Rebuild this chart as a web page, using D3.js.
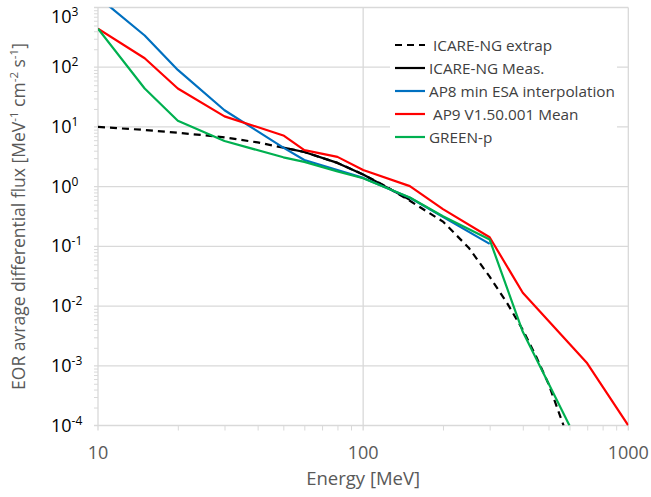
<!DOCTYPE html>
<html>
<head>
<meta charset="utf-8">
<script src="https://cdn.jsdelivr.net/npm/d3@7"></script>
<style>
  body { margin: 0; background: #fff; }
  text { font-family: "Open Sans", "Liberation Sans", sans-serif; }
</style>
</head>
<body>
<svg id="chart"></svg>
<script>
// Energy grids [MeV] and differential flux values per model
var extrapEnergy = [10, 15, 20, 30, 40, 50, 60, 80, 100, 120, 150, 200, 250, 300, 350, 400, 450, 500, 570];
var extrapFlux   = [10, 8.9, 8.0, 6.7, 5.5, 4.5, 3.8, 2.5, 1.6, 1.05, 0.58, 0.26, 0.095, 0.031, 0.011, 0.004, 0.0014, 0.0005, 0.0001];

var measEnergy = [50, 60, 80, 100, 150];
var measFlux   = [4.5, 3.8, 2.5, 1.6, 0.6];

var ap8Energy = [10, 15, 20, 30, 50, 60, 80, 100, 150, 300];
var ap8Flux   = [1500, 340, 90, 19, 4.5, 2.8, 1.9, 1.4, 0.65, 0.11];

var ap9Energy = [10, 15, 20, 30, 50, 60, 80, 100, 150, 200, 300, 400, 700, 1000];
var ap9Flux   = [440, 141, 44, 15, 7.2, 4.1, 3.15, 1.9, 1.02, 0.42, 0.142, 0.0167, 0.0011, 0.0001];

var greenEnergy = [10, 15, 20, 30, 50, 60, 80, 100, 150, 200, 300, 400, 600];
var greenFlux   = [440, 44, 12.7, 5.8, 3.1, 2.6, 1.8, 1.38, 0.66, 0.32, 0.13, 0.0037, 0.0001];

var seriesNames = [" ICARE-NG extrap", "ICARE-NG Meas.", "AP8 min ESA interpolation", " AP9 V1.50.001 Mean", "GREEN-p"];
var xTicks = [10, 100, 1000];
var yExponents = [3, 2, 1, 0, -1, -2, -3, -4];

var width = 651, height = 497;
var margin = { top: 7.5, right: 22.7, bottom: 71.5, left: 98 };

var svg = d3.select("#chart").attr("width", width).attr("height", height);

var x = d3.scaleLog().domain([10, 1000]).range([margin.left, width - margin.right]);
var y = d3.scaleLog().domain([1e-4, 1e3]).range([height - margin.bottom, margin.top]);

var gridColor = "#d9d9d9";

// minor tick values (2..9 in each decade)
function minors(lo, hi) {
    var out = [];
    for (var e = lo; e < hi; e++) {
        for (var m = 2; m <= 9; m++) out.push(m * Math.pow(10, e));
    }
    return out;
}

// Gridlines at decades
svg.append("g").selectAll("line")
    .data(yExponents.map(function (e) { return Math.pow(10, e); }))
    .enter().append("line")
    .attr("x1", x(10) - 4).attr("x2", x(1000))
    .attr("y1", function (d) { return y(d); }).attr("y2", function (d) { return y(d); })
    .attr("stroke", gridColor).attr("stroke-width", 1.3);

svg.append("g").selectAll("line")
    .data(xTicks)
    .enter().append("line")
    .attr("x1", function (d) { return x(d); }).attr("x2", function (d) { return x(d); })
    .attr("y1", y(1e3)).attr("y2", y(1e-4) + 5)
    .attr("stroke", gridColor).attr("stroke-width", 1.3);

// Minor ticks on both axes
var yMinor = d3.axisLeft(y).tickValues(minors(-4, 3)).tickSize(4).tickFormat("");
var gyMinor = svg.append("g").attr("transform", "translate(" + x(10) + ",0)").call(yMinor);
gyMinor.select(".domain").remove();
gyMinor.selectAll("line").attr("stroke", gridColor);

var xMinor = d3.axisBottom(x).tickValues(minors(1, 3)).tickSize(5).tickFormat("");
var gxMinor = svg.append("g").attr("transform", "translate(0," + y(1e-4) + ")").call(xMinor);
gxMinor.select(".domain").remove();
gxMinor.selectAll("line").attr("stroke", gridColor);

// Y tick labels as 10^n (top one is pushed inside the frame)
var yLab = svg.append("g").selectAll("text")
    .data(yExponents)
    .enter().append("text")
    .attr("x", 51)
    .attr("y", function (e) { return Math.max(y(Math.pow(10, e)) + 6, 23); })
    .attr("font-size", 18)
    .attr("fill", "#000")
    .text("10");
yLab.append("tspan").attr("dy", -7).attr("font-size", 12).text(function (e) { return e; });

// X tick labels
svg.append("g").selectAll("text")
    .data(xTicks)
    .enter().append("text")
    .attr("x", function (d) { return x(d); })
    .attr("y", 459)
    .attr("text-anchor", "middle")
    .attr("font-size", 18)
    .attr("fill", "#595959")
    .text(function (d) { return d; });

// Axis titles
svg.append("text")
    .attr("x", x(100)).attr("y", 485)
    .attr("text-anchor", "middle")
    .attr("font-size", 18.5)
    .attr("fill", "#595959")
    .text("Energy [MeV]");

var yTitle = svg.append("text")
    .attr("transform", "translate(25," + ((y(1e3) + y(1e-4)) / 2) + ") rotate(-90)")
    .attr("text-anchor", "middle")
    .attr("font-size", 17.5)
    .attr("fill", "#595959");
[["EOR avrage differential flux [MeV", false], ["-1", true], [" cm", false], ["-2", true],
 [" s", false], ["-1", true], ["]", false]].forEach(function (p, i) {
    var ts = yTitle.append("tspan").text(p[0]);
    if (p[1]) ts.attr("font-size", 11.5).attr("dy", -7);
    else ts.attr("dy", i > 0 ? 7 : 0);
});

// Curves
svg.append("clipPath").attr("id", "plotClip").append("rect")
    .attr("x", x(10)).attr("y", y(1e3))
    .attr("width", x(1000) - x(10)).attr("height", y(1e-4) - y(1e3));

var line = d3.line()
    .x(function (d) { return x(d[0]); })
    .y(function (d) { return y(d[1]); });

var series = [
    { energy: extrapEnergy, flux: extrapFlux, color: "#000000", dash: "7,5" },
    { energy: measEnergy, flux: measFlux, color: "#000000", dash: null },
    { energy: ap8Energy, flux: ap8Flux, color: "#0070c0", dash: null },
    { energy: ap9Energy, flux: ap9Flux, color: "#ff0000", dash: null },
    { energy: greenEnergy, flux: greenFlux, color: "#00b050", dash: null }
];

var plot = svg.append("g").attr("clip-path", "url(#plotClip)");
plot.selectAll("path")
    .data(series)
    .enter().append("path")
    .attr("d", function (s) { return line(d3.zip(s.energy, s.flux)); })
    .attr("fill", "none")
    .attr("stroke", function (s) { return s.color; })
    .attr("stroke-width", 2.2)
    .attr("stroke-dasharray", function (s) { return s.dash; })
    .attr("stroke-linejoin", "round");

// Legend
var legend = svg.append("g");
legend.append("rect")
    .attr("x", 390).attr("y", 31).attr("width", 227).attr("height", 120)
    .attr("fill", "#fff");
var item = legend.selectAll("g.item")
    .data(series)
    .enter().append("g").attr("class", "item")
    .attr("transform", function (s, i) { return "translate(395," + (45 + i * 23) + ")"; });
item.append("line")
    .attr("x1", 0).attr("x2", 30)
    .attr("stroke", function (s) { return s.color; })
    .attr("stroke-width", 2.2)
    .attr("stroke-dasharray", function (s) { return s.dash; });
item.append("text")
    .attr("x", 34).attr("y", 6)
    .attr("font-size", 15.3)
    .attr("fill", "#404040")
    .style("white-space", "pre")
    .text(function (s, i) { return seriesNames[i]; });
</script>
</body>
</html>
